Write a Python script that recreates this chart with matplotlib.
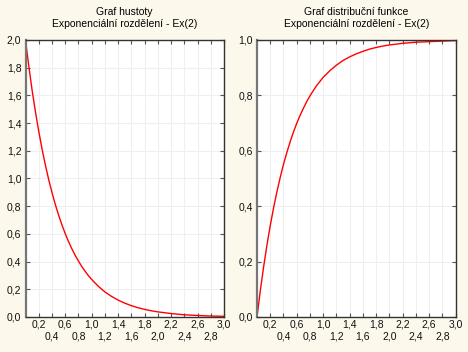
import numpy as np
import matplotlib.pyplot as plt

# Exponential distribution Ex(2): values
x_vals = [0.0, 0.05, 0.1, 0.15, 0.2, 0.25, 0.3, 0.35, 0.4, 0.45, 0.5, 0.55, 0.6,
          0.65, 0.7, 0.75, 0.8, 0.85, 0.9, 0.95, 1.0, 1.1, 1.2, 1.3, 1.4, 1.5,
          1.6, 1.7, 1.8, 1.9, 2.0, 2.2, 2.4, 2.6, 2.8, 3.0]
density = [2.000, 1.810, 1.637, 1.482, 1.341, 1.213, 1.098, 0.993, 0.899, 0.813,
           0.736, 0.666, 0.602, 0.545, 0.493, 0.446, 0.404, 0.365, 0.331, 0.299,
           0.271, 0.222, 0.181, 0.149, 0.122, 0.100, 0.082, 0.067, 0.055, 0.045,
           0.037, 0.025, 0.016, 0.011, 0.007, 0.005]
cdf = [0.000, 0.095, 0.181, 0.259, 0.330, 0.393, 0.451, 0.503, 0.551, 0.593,
       0.632, 0.667, 0.699, 0.727, 0.753, 0.777, 0.798, 0.817, 0.835, 0.850,
       0.865, 0.889, 0.909, 0.926, 0.939, 0.950, 0.959, 0.967, 0.973, 0.978,
       0.982, 0.988, 0.992, 0.994, 0.996, 0.998]

x_ticks = [0.2, 0.4, 0.6, 0.8, 1.0, 1.2, 1.4, 1.6, 1.8, 2.0, 2.2, 2.4, 2.6, 2.8, 3.0]
y_ticks_pdf = [0.0, 0.2, 0.4, 0.6, 0.8, 1.0, 1.2, 1.4, 1.6, 1.8, 2.0]
y_ticks_cdf = [0.0, 0.2, 0.4, 0.6, 0.8, 1.0]

titles = ['Graf hustoty\nExponenciální rozdělení - Ex(2)',
          'Graf distribuční funkce\nExponenciální rozdělení - Ex(2)']

plt.rcParams['font.family'] = ['Liberation Sans', 'DejaVu Sans']
bg = '#FDF8EC'

fig = plt.figure(figsize=(4.68, 3.52), dpi=100, facecolor=bg)
W, H = 468, 352
ax1 = fig.add_axes([25.5 / W, 1 - 317 / H, 198.5 / W, 277 / H])
ax2 = fig.add_axes([257 / W, 1 - 317 / H, 198.5 / W, 277 / H])


def comma(v):
    return f'{v:.1f}'.replace('.', ',')


for ax, y, yt, title in [(ax1, density, y_ticks_pdf, titles[0]),
                         (ax2, cdf, y_ticks_cdf, titles[1])]:
    ax.set_facecolor('white')
    ax.plot(x_vals, y, color='#FF0000', linewidth=1.0)
    ax.set_xlim(0, 3.0)
    ax.set_ylim(0, yt[-1])
    ax.set_xticks(x_ticks)
    ax.set_xticklabels([comma(v) if i % 2 == 0 else '\n' + comma(v)
                        for i, v in enumerate(x_ticks)])
    ax.set_yticks(yt)
    ax.set_yticklabels([comma(v) for v in yt])
    ax.grid(True, color='#EFEFEF', linewidth=0.8)
    ax.set_axisbelow(True)
    ax.tick_params(direction='in', length=3, width=0.8, color='#555555',
                   top=True, right=True, labelsize=7.5, pad=3,
                   labelcolor='#111111')
    ax.tick_params(axis='x', pad=2, labelsize=7.5)
    for side, sp in ax.spines.items():
        sp.set_color('#333333')
        sp.set_linewidth(1.0)
    ax.spines['left'].set_color('#777777')
    ax.spines['left'].set_linewidth(1.6)
    ax.set_title(title, fontsize=7.5, pad=9, linespacing=1.25)

fig.savefig('out.png', dpi=100, facecolor=bg)
